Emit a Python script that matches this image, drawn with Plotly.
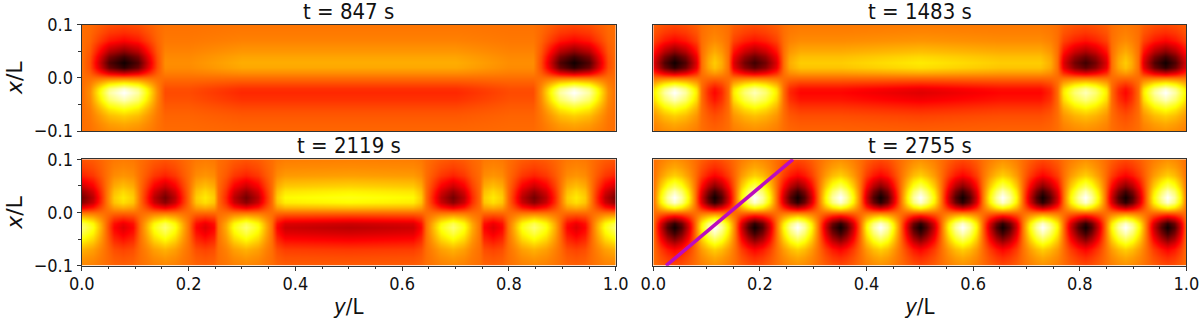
import plotly.graph_objects as go

# vertical positions across the slab (x/L), from 0 upward; the lower half mirrors them
x_half = [0.01, 0.02, 0.028, 0.04, 0.05, 0.06, 0.07, 0.085, 0.1]
z_centre = 0.53

# colour-scale value read along a column, per lobe strength (percent)
dark_lobe = {
    10: [.503, .482, .477, .485, .496, .505, .514, .520, .524],
    20: [.477, .435, .424, .440, .461, .480, .497, .510, .518],
    30: [.450, .387, .371, .395, .427, .455, .481, .500, .513],
    40: [.424, .339, .318, .350, .392, .430, .464, .490, .507],
    45: [.411, .315, .292, .327, .375, .418, .456, .485, .504],
    50: [.397, .291, .265, .305, .358, .405, .448, .480, .501],
    60: [.371, .244, .212, .260, .323, .381, .431, .470, .495],
    70: [.344, .196, .159, .215, .289, .356, .415, .460, .489],
    80: [.318, .148, .106, .170, .254, .331, .399, .449, .483],
    85: [.305, .125, .080, .147, .237, .318, .390, .444, .480],
    100: [.265, .053, .010, .080, .185, .281, .366, .430, .472],
}
light_lobe = {
    10: [.554, .572, .577, .570, .561, .552, .545, .539, .535],
    20: [.577, .615, .624, .610, .591, .574, .559, .548, .540],
    30: [.600, .657, .671, .650, .622, .596, .574, .557, .546],
    40: [.624, .699, .718, .690, .652, .618, .588, .566, .551],
    45: [.636, .720, .742, .710, .667, .629, .596, .570, .553],
    50: [.648, .742, .765, .730, .683, .640, .603, .575, .556],
    60: [.671, .784, .812, .770, .713, .663, .617, .584, .561],
    70: [.695, .826, .859, .810, .744, .685, .632, .593, .566],
    80: [.718, .868, .906, .850, .774, .707, .647, .601, .571],
    85: [.730, .890, .930, .870, .790, .718, .654, .606, .574],
    100: [.765, .953, 1.00, .930, .836, .751, .676, .619, .582],
}

# each panel: y/L of the read columns and signed lobe strength there
# (+ = dark above the midline, light below; - = light above, dark below)
y_847 = [0, .015, .03, .05, .078, .105, .125, .14, .155, .2, .3, .5, .7, .8, .845,
         .86, .875, .895, .922, .95, .97, .985, 1]
lv_847 = [0, 10, 40, 80, 100, 80, 40, 10, -10, -10, -20, -20, -20, -10, -10,
          10, 40, 80, 100, 80, 40, 10, 0]

y_1483 = [0, .02, .04, .06, .08, .09, .103, .115, .127, .14, .15, .17, .19, .21, .23, .243, .255,
          .275, .35, .5, .65, .725, .745, .757, .77, .79, .81, .83, .85, .86, .873, .885, .897,
          .91, .92, .94, .96, .98, 1]
lv_1483 = [40, 80, 100, 80, 40, 0, -20, -30, -20, 0, 40, 70, 85, 70, 40, 0, -20,
           -30, -30, -40, -30, -30, -20, 0, 40, 70, 85, 70, 40, 0, -20, -30, -20,
           0, 40, 80, 100, 80, 40]

y_2119 = [0, .02, .035, .045, .06, .077, .095, .108, .12, .135, .155, .175, .19, .2, .213,
          .23, .247, .255, .27, .285, .308, .33, .345, .355, .365, .38, .5, .62, .635, .645,
          .655, .672, .695, .715, .73, .745, .753, .77, .787, .797, .81, .825, .847, .87,
          .885, .895, .908, .925, .942, .955, .965, .98, 1]
lv_2119 = [70, 50, 20, 0, -30, -40, -30, 0, 20, 50, 70, 50, 20, 0, -30,
           -40, -30, 0, 20, 50, 70, 50, 20, 0, -30, -45, -50, -45, -30, 0,
           20, 50, 70, 50, 20, 0, -30, -40, -30, 0, 20, 50, 70, 50,
           20, 0, -30, -40, -30, 0, 20, 50, 70]

y_2755 = [0, .013, .026, .04, .052, .065, .078, .09, .103, .115, .128, .14, .153, .166, .178,
          .19, .204, .217, .23, .243, .257, .27, .283, .297, .31, .323, .336, .35, .362, .375,
          .388, .4, .413, .425, .438, .45, .463, .476, .488, .5, .513, .527, .54, .553, .567,
          .58, .592, .605, .618, .63, .643, .655, .668, .68, .693, .706, .718, .73, .743, .757,
          .77, .783, .797, .81, .822, .835, .848, .86, .873, .885, .898, .912, .925, .938, .952,
          .965, .977, .988, 1]
lv_2755 = [0, -45, -80, -100, -80, -45, 0, 45, 80, 100, 80, 45, 0, -45, -80,
           -100, -80, -45, 0, 45, 80, 100, 80, 45, 0, -45, -80, -100, -80, -45,
           0, 45, 80, 100, 80, 45, 0, -45, -80, -100, -80, -45, 0, 45, 80,
           100, 80, 45, 0, -45, -80, -100, -80, -45, 0, 45, 80, 100, 80, 45,
           0, -45, -80, -100, -80, -45, 0, 45, 80, 100, 80, 45, 0, -45, -80,
           -100, -80, -45, 0]

titles = ["t = 847 s", "t = 1483 s", "t = 2119 s", "t = 2755 s"]
panels = [(y_847, lv_847), (y_1483, lv_1483), (y_2119, lv_2119), (y_2755, lv_2755)]

# guide line of the last panel
line_y = [0.024, 0.262]
line_x = [-0.1, 0.1]

x_rows = [-v for v in reversed(x_half)] + [0.0] + x_half


def column(level):
    if level == 0:
        return [z_centre] * len(x_rows)
    above = dark_lobe[level] if level > 0 else light_lobe[-level]
    below = light_lobe[level] if level > 0 else dark_lobe[-level]
    return list(reversed(below)) + [z_centre] + above


hot = [[0, "#0a0000"], [0.365, "#ff0000"], [0.746, "#ffff00"], [1, "#ffffff"]]

W, H = 1200, 319
dom_x = [[81.8 / W, 615.7 / W], [653.3 / W, 1186.4 / W]]
dom_y = [[1 - 131 / H, 1 - 24.5 / H], [1 - 265.7 / H, 1 - 159.3 / H]]

fig = go.Figure()
FONT = "DejaVu Sans Condensed, DejaVu Sans"
INK = "#333333"
for i, (ys, levels) in enumerate(panels):
    n = i + 1
    cols = [column(l) for l in levels]
    z = [[c[r] for c in cols] for r in range(len(x_rows))]
    fig.add_trace(go.Heatmap(x=ys, y=x_rows, z=z, colorscale=hot, zmin=0, zmax=1,
                             zsmooth="best", showscale=False, xaxis=f"x{n}", yaxis=f"y{n}"))
    col, row = i % 2, i // 2
    is_left, is_bottom = col == 0, row == 1
    key = "" if n == 1 else str(n)
    fig.update_layout({
        f"xaxis{key}": dict(
            domain=dom_x[col], range=[0, 1], anchor=f"y{key}", tickmode="array",
            tickvals=[0, .2, .4, .6, .8, 1] if is_bottom else [],
            ticktext=["0.0", "0.2", "0.4", "0.6", "0.8", "1.0"] if is_bottom else [],
            ticks="outside" if is_bottom else "", ticklen=4, tickwidth=1.3, tickcolor=INK,
            minor=dict(tickvals=[.05 * k for k in range(21)] if is_bottom else [],
                       ticks="outside" if is_bottom else "", ticklen=2.5, tickwidth=1, tickcolor=INK),
            tickfont=dict(family=FONT, size=18, color="#111"), ticklabelstandoff=-2,
            showgrid=False, zeroline=False, showline=True, mirror=True, linecolor=INK, linewidth=1.3,
            title=dict(text="<i>y</i>/L", font=dict(family=FONT, size=22, color="#111"), standoff=5)
            if is_bottom else None,
        ),
        f"yaxis{key}": dict(
            domain=dom_y[row], range=[-.1, .1], anchor=f"x{key}", tickmode="array",
            tickvals=[-.1, 0, .1] if is_left else [],
            ticktext=["\u22120.1", "0.0", "0.1"] if is_left else [],
            ticks="outside" if is_left else "", ticklen=4, tickwidth=1.3, tickcolor=INK,
            minor=dict(tickvals=[-.05, .05] if is_left else [],
                       ticks="outside" if is_left else "", ticklen=2.5, tickwidth=1, tickcolor=INK),
            tickfont=dict(family=FONT, size=18, color="#111"),
            showgrid=False, zeroline=False, showline=True, mirror=True, linecolor=INK, linewidth=1.3,
            title=dict(text="<i>x</i>/L", font=dict(family="DejaVu Sans", size=22, color="#111"), standoff=5)
            if is_left else None,
        ),
    })
    fig.add_annotation(text=titles[i], xref=f"x{key} domain", yref=f"y{key} domain", x=0.5, y=1,
                       yshift=-1, yanchor="bottom", showarrow=False,
                       font=dict(family=FONT, size=22, color="#111"))

fig.add_trace(go.Scatter(x=line_y, y=line_x, mode="lines", line=dict(color="#bb0bbf", width=3.5),
                         xaxis="x4", yaxis="y4", showlegend=False))

fig.update_layout(width=W, height=H, margin=dict(l=0, r=0, t=0, b=0, pad=0, autoexpand=False),
                  paper_bgcolor="white", plot_bgcolor="white", showlegend=False)
fig.write_html("out.html", config={"displayModeBar": False},
               post_script="document.body.style.margin='0';document.body.style.overflow='hidden';")
